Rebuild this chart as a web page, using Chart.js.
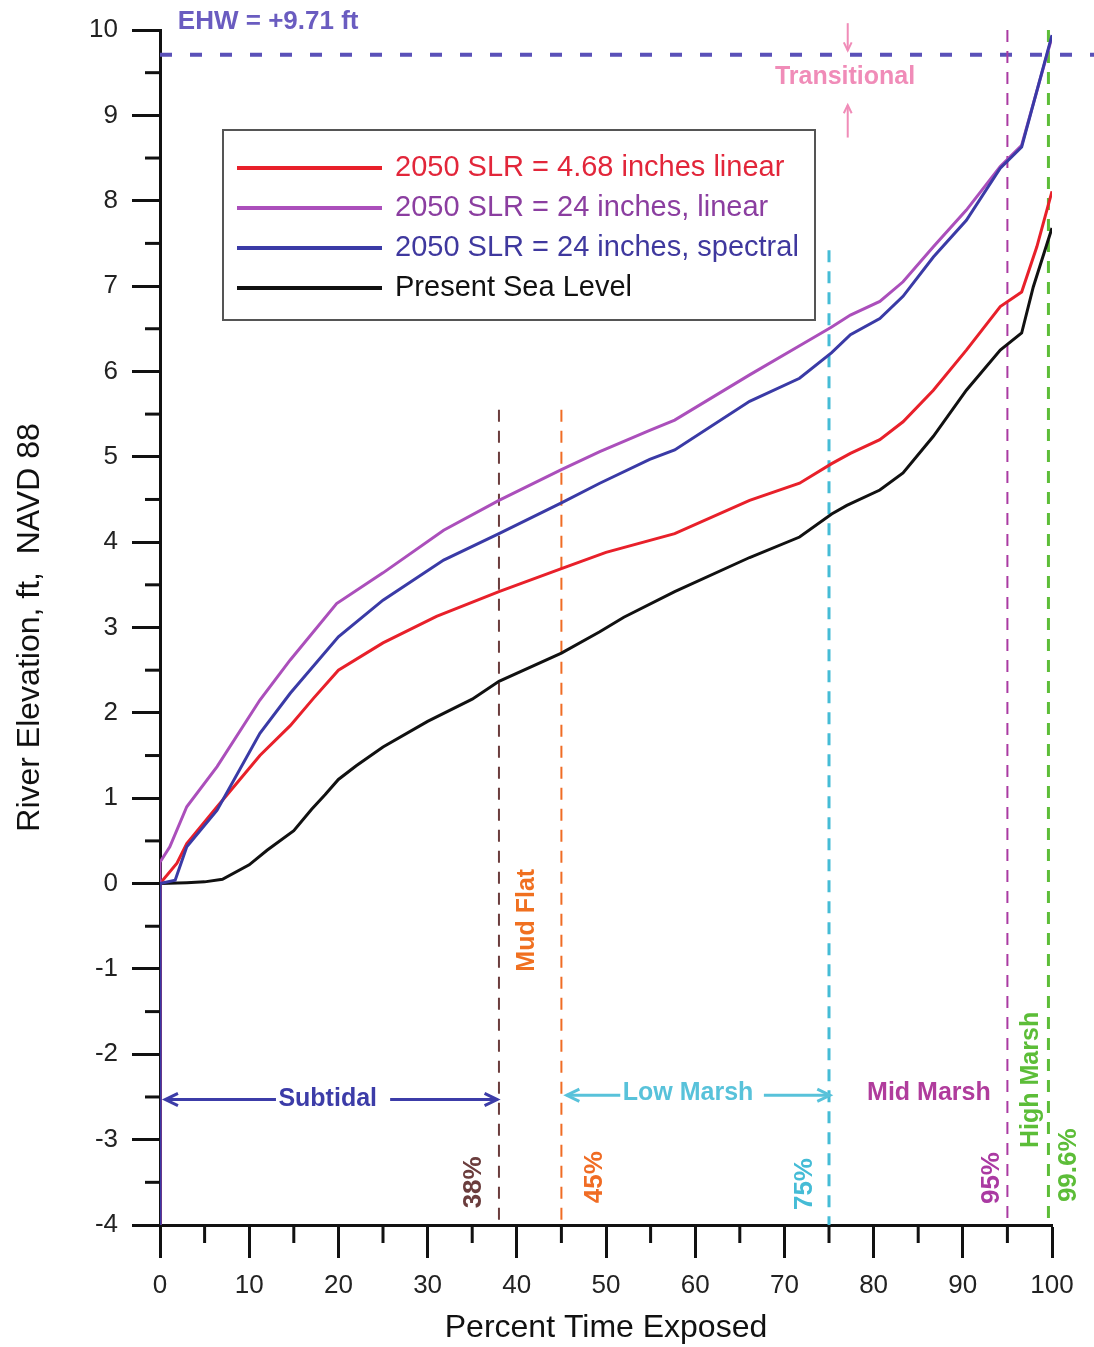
<!DOCTYPE html>
<html>
<head>
<meta charset="utf-8">
<script src="https://cdn.jsdelivr.net/npm/chart.js@4.4.1/dist/chart.umd.min.js"></script>
<style>
  html, body { margin: 0; padding: 0; background: #fff; }
  #wrap { width: 1094px; height: 1347px; }
</style>
</head>
<body>
<div id="wrap"><canvas id="chart"></canvas></div>
<script>
const FONT = "'Liberation Sans', Arial, sans-serif";

// percent time exposed (x) vs river elevation, ft NAVD 88 (y)
const pctSpectral24 = [0, 0, 1.7, 3, 6.4, 11.2, 14.6, 20, 25, 31.8, 38, 45, 49.3, 54.9, 57.7, 66.1, 71.7, 75.3, 77.4, 80.7, 83.3, 86.7, 90.4, 94.2, 96.6, 100];
const elevSpectral24 = [-4, 0, 0.04, 0.43, 0.86, 1.76, 2.23, 2.89, 3.32, 3.79, 4.1, 4.46, 4.69, 4.97, 5.08, 5.65, 5.92, 6.22, 6.43, 6.62, 6.88, 7.34, 7.77, 8.38, 8.63, 9.94];

const pctLinear24 = [0, 0, 1.1, 3, 6.4, 11.2, 14.6, 19.8, 25, 31.8, 38, 45, 49.3, 54.9, 57.7, 66.1, 71.7, 75.3, 77.4, 80.7, 83.3, 86.7, 90.4, 94.2, 96.6, 100];
const elevLinear24 = [-4, 0.25, 0.43, 0.9, 1.37, 2.15, 2.62, 3.28, 3.64, 4.14, 4.49, 4.85, 5.06, 5.31, 5.43, 5.96, 6.3, 6.52, 6.66, 6.82, 7.05, 7.46, 7.89, 8.4, 8.65, 9.92];

const pctLinear468 = [0, 0, 1.9, 3, 6.4, 11.2, 14.6, 17.2, 20, 25, 31, 38, 45, 50, 57.7, 66.1, 71.7, 75.3, 77.4, 80.7, 83.3, 86.7, 90.4, 94.2, 96.6, 98.3, 100];
const elevLinear468 = [-4, 0, 0.24, 0.47, 0.9, 1.5, 1.85, 2.17, 2.5, 2.82, 3.13, 3.42, 3.69, 3.88, 4.1, 4.49, 4.69, 4.92, 5.04, 5.2, 5.41, 5.78, 6.25, 6.76, 6.93, 7.46, 8.11];

const pctPresent = [0, 0, 3, 5, 7, 10, 12, 15, 17, 18.5, 20, 22, 25, 30, 35, 38, 45, 49.3, 52, 57.7, 66.1, 71.7, 75.3, 77, 80.7, 83.3, 86.7, 90.4, 94.2, 96.6, 97.9, 100];
const elevPresent = [-4, 0, 0.01, 0.02, 0.05, 0.22, 0.39, 0.62, 0.87, 1.04, 1.22, 1.38, 1.6, 1.9, 2.16, 2.37, 2.7, 2.95, 3.12, 3.42, 3.82, 4.06, 4.33, 4.43, 4.61, 4.81, 5.24, 5.78, 6.25, 6.45, 6.99, 7.68];

const seriesLabels = ["2050 SLR = 4.68 inches linear", "2050 SLR = 24 inches, linear", "2050 SLR = 24 inches, spectral", "Present Sea Level"];
const seriesColors = ["#e8202a", "#ab4fbb", "#3a3aa6", "#111111"];
const legendTextColors = ["#e2263a", "#8b3ea0", "#3f389e", "#111111"];

// habitat boundaries (percent exposed) and the height each dashed marker reaches
const boundPct = [38, 45, 75, 95, 99.6];
const boundTop = [5.55, 5.55, 7.42, 10, 10];
const boundLabels = ["38%", "45%", "75%", "95%", "99.6%"];
const boundColors = ["#6b3d3d", "#f06c24", "#45bcd6", "#aa3aa2", "#5dbd38"];
const boundWidths = [2, 2, 3, 2, 3];

const ehwLevel = 9.71;

const xTickValues = [0, 10, 20, 30, 40, 50, 60, 70, 80, 90, 100];
const xMinorTicks = [5, 15, 25, 35, 45, 55, 65, 75, 85, 95];
const yTickValues = [-4, -3, -2, -1, 0, 1, 2, 3, 4, 5, 6, 7, 8, 9, 10];
const yMinorTicks = [-3.5, -2.5, -1.5, -0.5, 0.5, 1.5, 2.5, 3.5, 4.5, 5.5, 6.5, 7.5, 8.5, 9.5];

const toPts = (xs, ys) => xs.map((x, i) => ({ x: x, y: ys[i] }));

const curveData = [
  toPts(pctLinear468, elevLinear468),
  toPts(pctLinear24, elevLinear24),
  toPts(pctSpectral24, elevSpectral24),
  toPts(pctPresent, elevPresent)
];
// blue drawn on top, black at the bottom
const curveOrder = [2, 1, 0, 3];

const datasets = [];
seriesLabels.forEach((lab, i) => {
  datasets.push({
    label: lab,
    data: curveData[i],
    borderColor: seriesColors[i],
    borderWidth: 3,
    pointRadius: 0,
    tension: 0,
    order: curveOrder[i]
  });
});
boundPct.forEach((p, i) => {
  datasets.push({
    label: boundLabels[i],
    data: [{ x: p, y: boundTop[i] }, { x: p, y: -4 }],
    borderColor: boundColors[i],
    borderWidth: boundWidths[i],
    borderDash: [12, 9],
    pointRadius: 0,
    order: 10
  });
});

function arrow(ctx, x1, y1, x2, y2, head) {
  ctx.beginPath();
  ctx.moveTo(x1, y1);
  ctx.lineTo(x2, y2);
  ctx.stroke();
  const a = Math.atan2(y2 - y1, x2 - x1);
  ctx.beginPath();
  ctx.moveTo(x2 - head * Math.cos(a - 0.45), y2 - head * Math.sin(a - 0.45));
  ctx.lineTo(x2, y2);
  ctx.lineTo(x2 - head * Math.cos(a + 0.45), y2 - head * Math.sin(a + 0.45));
  ctx.stroke();
}

function vText(ctx, txt, x, y, color, font) {
  ctx.save();
  ctx.translate(x, y);
  ctx.rotate(-Math.PI / 2);
  ctx.fillStyle = color;
  ctx.font = font;
  ctx.textAlign = "center";
  ctx.textBaseline = "middle";
  ctx.fillText(txt, 0, 0);
  ctx.restore();
}

const annotate = {
  id: "annotate",
  beforeDatasetsDraw(chart) {
    const ctx = chart.ctx, sy = chart.scales.y, area = chart.chartArea;
    const y = sy.getPixelForValue(ehwLevel);
    ctx.save();
    ctx.strokeStyle = "#5a50b8";
    ctx.lineWidth = 4;
    ctx.setLineDash([12, 18]);
    ctx.beginPath();
    ctx.moveTo(area.left, y);
    ctx.lineTo(chart.width, y);
    ctx.stroke();
    ctx.restore();
  },
  afterDraw(chart) {
    const ctx = chart.ctx, sx = chart.scales.x, sy = chart.scales.y, area = chart.chartArea;
    const X = v => sx.getPixelForValue(v), Y = v => sy.getPixelForValue(v);
    ctx.save();

    // minor ticks
    ctx.strokeStyle = "#111";
    ctx.lineWidth = 3;
    xMinorTicks.forEach(v => {
      ctx.beginPath();
      ctx.moveTo(X(v), area.bottom);
      ctx.lineTo(X(v), area.bottom + 18);
      ctx.stroke();
    });
    yMinorTicks.forEach(v => {
      ctx.beginPath();
      ctx.moveTo(area.left, Y(v));
      ctx.lineTo(area.left - 15, Y(v));
      ctx.stroke();
    });

    // legend box
    const lx = area.left + 63, ly = area.top + 100, lw = 592, lh = 190;
    ctx.fillStyle = "#fff";
    ctx.fillRect(lx, ly, lw, lh);
    ctx.strokeStyle = "#555";
    ctx.lineWidth = 2;
    ctx.strokeRect(lx, ly, lw, lh);
    ctx.font = "29px " + FONT;
    ctx.textBaseline = "middle";
    ctx.textAlign = "left";
    seriesLabels.forEach((lab, i) => {
      const yy = ly + 38 + i * 40;
      ctx.strokeStyle = seriesColors[i];
      ctx.lineWidth = 4;
      ctx.beginPath();
      ctx.moveTo(lx + 14, yy);
      ctx.lineTo(lx + 159, yy);
      ctx.stroke();
      ctx.fillStyle = legendTextColors[i];
      ctx.fillText(lab, lx + 172, yy);
    });

    // EHW label
    ctx.fillStyle = "#6a5cc0";
    ctx.font = "bold 26px " + FONT;
    ctx.fillText("EHW = +9.71 ft", X(2.0), Y(10.09));

    // transitional zone
    ctx.fillStyle = "#f08cb8";
    ctx.strokeStyle = "#f08cb8";
    ctx.font = "bold 25px " + FONT;
    ctx.textAlign = "center";
    ctx.fillText("Transitional", X(76.8), Y(9.45));
    ctx.lineWidth = 2;
    arrow(ctx, X(77.1), Y(10.08), X(77.1), Y(9.76), 9);
    arrow(ctx, X(77.1), Y(8.74), X(77.1), Y(9.12), 9);

    // zone labels with arrows
    ctx.lineWidth = 3;
    ctx.fillStyle = "#3c3ca8";
    ctx.strokeStyle = "#3c3ca8";
    ctx.fillText("Subtidal", X(18.8), Y(-2.53));
    arrow(ctx, X(13.0), Y(-2.53), X(0.6), Y(-2.53), 14);
    arrow(ctx, X(25.8), Y(-2.53), X(37.8), Y(-2.53), 14);

    ctx.fillStyle = "#58c2da";
    ctx.strokeStyle = "#58c2da";
    ctx.fillText("Low Marsh", X(59.2), Y(-2.46));
    arrow(ctx, X(51.6), Y(-2.48), X(45.6), Y(-2.48), 14);
    arrow(ctx, X(67.7), Y(-2.48), X(75.1), Y(-2.48), 14);

    ctx.fillStyle = "#b03c9c";
    ctx.fillText("Mid Marsh", X(86.2), Y(-2.46));

    vText(ctx, "Mud Flat", X(41.1), Y(-0.43), "#f07020", "bold 25px " + FONT);
    vText(ctx, "High Marsh", X(97.7), Y(-2.3), "#5cbd38", "bold 25px " + FONT);

    // boundary percentages
    const pctX = [35.2, 48.8, 72.3, 93.3, 101.9];
    const pctY = [-3.5, -3.44, -3.52, -3.45, -3.3];
    boundLabels.forEach((t, i) => {
      vText(ctx, t, X(pctX[i]), Y(pctY[i]), boundColors[i], "bold 26px " + FONT);
    });
    ctx.restore();
  }
};

new Chart(document.getElementById("chart"), {
  type: "line",
  data: { datasets: datasets },
  plugins: [annotate],
  options: {
    responsive: true,
    maintainAspectRatio: false,
    animation: false,
    layout: { padding: { top: 30, right: 42, bottom: 0, left: 0 } },
    plugins: { legend: { display: false }, tooltip: { enabled: false } },
    scales: {
      x: {
        type: "linear",
        min: 0,
        max: 100,
        afterBuildTicks: s => { s.ticks = xTickValues.map(v => ({ value: v })); },
        afterFit: s => { s.height = 122; },
        grid: { drawOnChartArea: false, drawTicks: true, tickLength: 33, tickWidth: 3, tickColor: "#111" },
        border: { display: true, color: "#111", width: 3 },
        ticks: { font: { family: FONT, size: 26 }, color: "#222", padding: 12, maxRotation: 0, autoSkip: false },
        title: { display: true, text: "Percent Time Exposed", font: { family: FONT, size: 32 }, color: "#111", padding: { top: 0, bottom: 0 } }
      },
      y: {
        type: "linear",
        min: -4,
        max: 10,
        afterBuildTicks: s => { s.ticks = yTickValues.map(v => ({ value: v })); },
        afterFit: s => { s.width = 160; },
        grid: { drawOnChartArea: false, drawTicks: true, tickLength: 28, tickWidth: 3, tickColor: "#111" },
        border: { display: true, color: "#111", width: 3 },
        ticks: { font: { family: FONT, size: 26 }, color: "#222", padding: 14, autoSkip: false },
        title: { display: true, text: "River Elevation, ft,  NAVD 88", font: { family: FONT, size: 32 }, color: "#111", padding: { top: 11, bottom: 0 } }
      }
    }
  }
});
</script>
</body>
</html>
